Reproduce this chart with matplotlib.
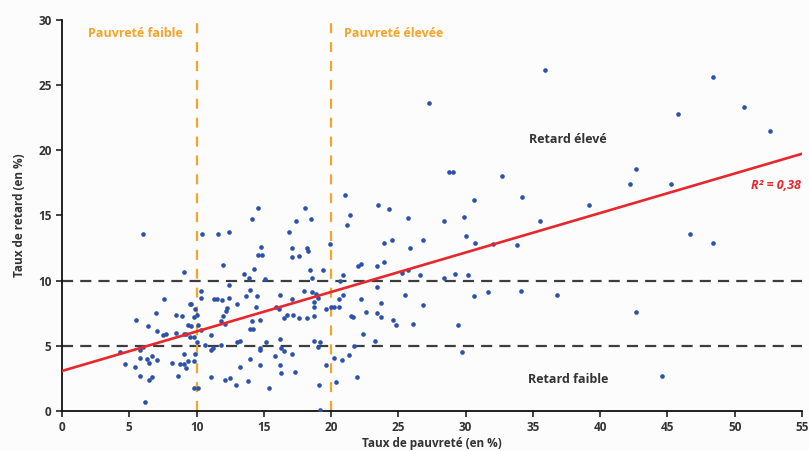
import matplotlib
matplotlib.use("Agg")
import matplotlib.pyplot as plt
import numpy as np

plt.rcParams['font.family'] = ['Open Sans', 'DejaVu Sans']

# taux de pauvrete (x) et taux de retard (y), en %
pauvrete = [7.6, 5.5, 7.0, 8.5, 8.9, 6.4, 7.1, 7.5, 7.7, 8.5, 9.1, 9.2, 9.4, 9.5,
            4.3, 6.0, 5.8, 4.7, 5.4, 5.8, 6.3, 6.5, 6.7, 7.1, 5.8, 6.5, 6.7, 6.2,
            8.2, 8.6, 8.8, 9.1, 9.2, 9.4, 6.0, 9.1,
            10.4, 11.6, 12.4, 14.1, 14.6, 12.0, 13.5, 13.9, 14.3, 15.1, 14.8, 14.6,
            14.9, 12.4, 10.3, 10.3, 11.3, 11.5, 11.9, 12.4, 13.7, 14.0, 14.5, 16.2,
            17.1, 18.0, 16.9, 17.4, 18.1, 17.1, 17.1, 17.6, 18.2, 18.3, 18.4,
            9.6, 9.9, 10.0, 9.8, 9.6, 10.1, 10.3, 9.5, 9.8, 10.0, 10.6, 11.1, 11.1,
            11.2, 11.8, 12.3, 12.2, 13.0, 12.0, 11.8, 12.1, 14.4, 14.1, 14.7, 14.0,
            14.2, 13.0, 13.2, 14.7, 14.7, 15.2, 15.9, 16.1, 16.7, 16.5, 17.2, 17.6,
            16.2, 16.3, 16.5, 17.1, 9.1, 9.9, 9.8, 14.0, 13.2, 14.7, 15.8, 16.2,
            16.3, 17.3, 11.1, 12.1, 12.5, 12.9, 13.8, 15.4, 9.8, 10.1,
            21.0, 18.5, 21.4, 21.2, 23.5, 24.3, 25.7, 19.9, 23.9, 24.5, 25.9, 26.8,
            19.4, 18.6, 20.9, 20.7, 22.0, 22.2, 23.4, 23.9, 25.3, 25.7, 26.6, 18.6,
            18.9, 23.4, 25.5, 20.6, 20.9, 22.2,
            18.7, 18.7, 19.0, 19.6, 20.0, 20.2, 20.6, 23.7, 26.8, 21.5, 21.6, 22.6,
            23.4, 23.7, 24.6, 24.8, 26.1, 18.2, 18.7, 22.4, 23.3, 18.7, 19.2, 19.0,
            21.7, 20.2, 20.8, 21.3, 19.6, 21.9, 20.4, 19.1, 19.2,
            28.8, 29.1, 32.7, 30.6, 34.2, 28.4, 29.9, 35.5, 30.0, 30.7, 32.0, 33.8,
            28.4, 29.2, 30.2, 30.6, 31.7, 34.1, 36.8, 29.4, 29.7,
            48.4, 45.8, 50.7, 52.6, 42.7, 42.2, 45.3, 39.2, 46.7, 48.4, 42.7, 44.6,
            27.3, 35.9]
retard = [8.6, 7.0, 7.5, 7.4, 7.3, 6.5, 6.1, 5.8, 5.9, 6.0, 5.9, 5.9, 6.6, 8.2,
          4.5, 4.9, 4.7, 3.6, 3.4, 4.1, 4.0, 3.7, 4.2, 3.9, 2.7, 2.4, 2.6, 0.7,
          3.7, 2.7, 3.6, 4.4, 3.3, 3.8, 13.6, 10.7,
          13.6, 13.6, 13.7, 14.7, 15.6, 11.2, 10.5, 10.2, 10.9, 10.1, 12.6, 12.0,
          12.0, 9.7, 9.2, 8.7, 8.6, 8.6, 8.5, 8.7, 8.8, 9.3, 8.8, 8.9,
          8.6, 9.2, 13.7, 14.6, 15.6, 12.5, 11.8, 11.9, 12.5, 12.3, 10.8,
          8.2, 7.8, 7.4, 7.2, 6.5, 6.6, 6.2, 5.7, 5.7, 5.3, 5.1, 5.8, 4.7,
          4.8, 5.1, 7.9, 7.7, 8.2, 7.3, 6.9, 6.7, 8.0, 6.9, 7.0, 6.3,
          6.3, 5.3, 5.4, 4.8, 4.7, 5.3, 8.0, 7.8, 7.4, 7.1, 7.4, 7.1,
          5.5, 4.8, 4.6, 4.4, 3.6, 4.4, 3.8, 4.0, 3.4, 3.5, 4.2, 3.5,
          2.9, 3.0, 2.6, 2.4, 2.5, 2.0, 2.3, 1.8, 1.8, 1.8,
          16.6, 14.7, 15.0, 14.3, 15.8, 15.5, 14.8, 12.8, 12.9, 13.1, 12.5, 13.1,
          10.8, 10.2, 10.4, 10.0, 11.1, 11.3, 11.1, 11.4, 10.6, 10.8, 10.4, 9.1,
          9.0, 9.5, 8.9, 8.6, 8.9, 8.6,
          8.4, 8.0, 8.7, 7.8, 8.0, 8.0, 8.0, 8.3, 8.1, 7.3, 7.2, 7.6,
          7.5, 7.2, 7.0, 6.6, 6.7, 7.1, 7.3, 5.9, 5.4, 5.4, 5.3, 4.9,
          5.0, 4.1, 3.9, 4.3, 3.5, 2.6, 2.2, 2.0, 0.1,
          18.3, 18.3, 18.0, 16.2, 16.4, 14.6, 14.9, 14.6, 13.4, 12.9, 12.8, 12.7,
          10.2, 10.5, 10.4, 8.8, 9.1, 9.2, 8.9, 6.6, 4.5,
          25.6, 22.8, 23.3, 21.5, 18.6, 17.4, 17.4, 15.8, 13.6, 12.9, 7.6, 2.7,
          23.6, 26.2]

# droite de regression
intercept = 3.07
pente = 0.303

bleu = '#2b52a8'
orange = '#f5a42a'
rouge = '#e8272c'
gris = '#3d3d3d'

fig = plt.figure(figsize=(8.09, 4.51), dpi=100, facecolor='#fcfcfc')
ax = fig.add_axes([0.0766, 0.0887, 0.9147, 0.867])
ax.set_facecolor('#fcfcfc')

ax.axhline(5, color=gris, lw=1.6, dashes=(5, 3.2), zorder=1)
ax.axhline(10, color=gris, lw=1.6, dashes=(5, 3.2), zorder=1)
ax.axvline(10, color=orange, lw=1.6, dashes=(4.5, 4), zorder=1)
ax.axvline(20, color=orange, lw=1.6, dashes=(4.5, 4), zorder=1)

ax.scatter(pauvrete, retard, s=11, color=bleu, linewidths=0, zorder=3)

xs = np.array([0, 55])
ax.plot(xs, intercept + pente * xs, color=rouge, lw=1.9, zorder=4)

ax.set_xlim(0, 55)
ax.set_ylim(0, 30)
ax.set_xticks(range(0, 56, 5))
ax.set_yticks(range(0, 31, 5))
for s in ['top', 'right']:
    ax.spines[s].set_visible(False)
for s in ['left', 'bottom']:
    ax.spines[s].set_linewidth(1.3)
    ax.spines[s].set_color('#111111')
ax.tick_params(axis='both', length=4, width=1.1, labelsize=8.5, colors='#111111',
               labelcolor='#333333')
for lab in ax.get_xticklabels() + ax.get_yticklabels():
    lab.set_fontweight('bold')

ax.set_xlabel('Taux de pauvreté (en %)', fontsize=8.5, fontweight='bold', color='#333333',
              labelpad=2)
ax.set_ylabel('Taux de retard (en %)', fontsize=8.5, fontweight='bold', color='#333333',
              labelpad=9)

ax.text(1.9, 29.0, 'Pauvreté faible', color=orange, fontsize=9, fontweight='bold',
        va='center', ha='left')
ax.text(20.95, 29.0, 'Pauvreté élevée', color=orange, fontsize=9, fontweight='bold',
        va='center', ha='left')
ax.text(37.6, 20.8, 'Retard élevé', color='#333333', fontsize=9, fontweight='bold',
        va='center', ha='center')
ax.text(37.6, 2.45, 'Retard faible', color='#333333', fontsize=9, fontweight='bold',
        va='center', ha='center')
ax.text(54.9, 17.3, 'R² = 0,38', color=rouge,
        fontsize=9, fontweight='bold', style='italic', va='center', ha='right')

fig.savefig('out.png', dpi=100, facecolor=fig.get_facecolor())
